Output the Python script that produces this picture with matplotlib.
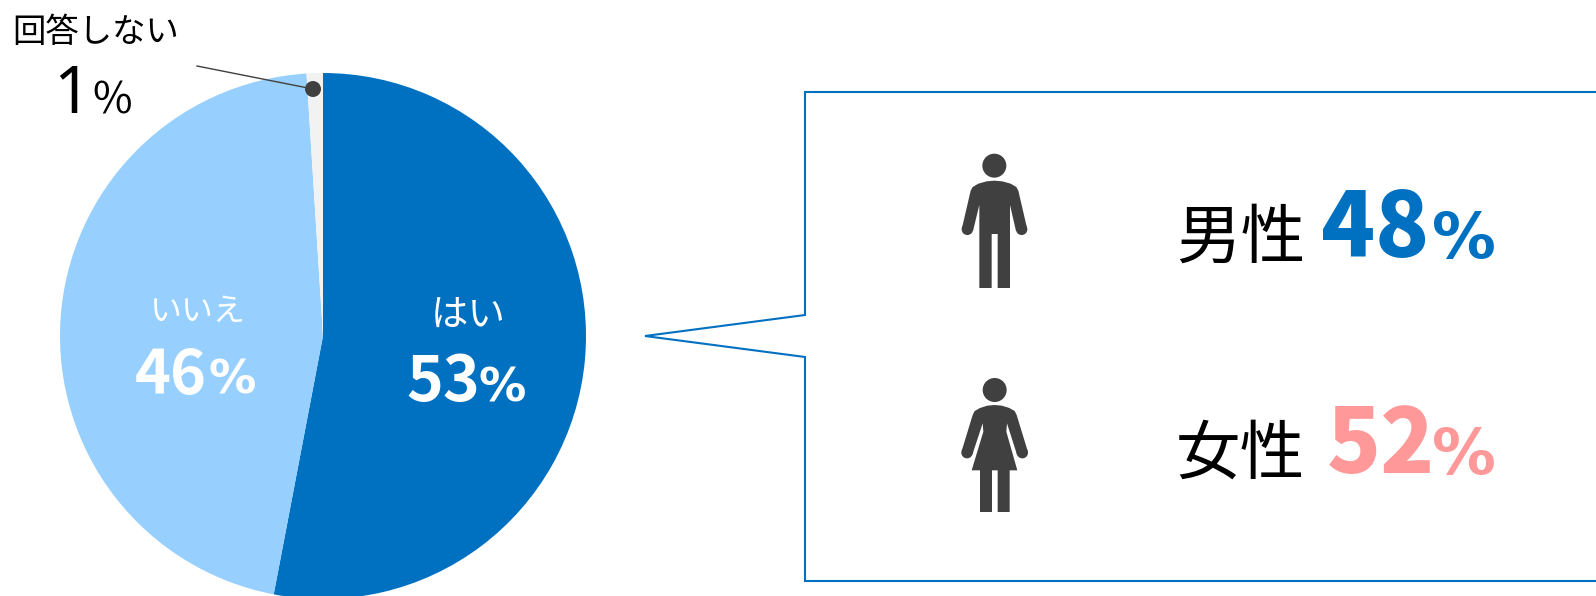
import matplotlib
matplotlib.use("Agg")
import matplotlib.pyplot as plt
from matplotlib.patches import Circle, Polygon, PathPatch
from matplotlib.path import Path

W, H = 1596, 596

answers = ["はい", "いいえ", "回答しない"]
shares = [53, 46, 1]
slice_colors = ["#0070C0", "#97D0FF", "#F2F2F2"]

genders = ["男性", "女性"]
gender_shares = [48, 52]
gender_colors = ["#0070C0", "#FF9999"]

JP = ["Noto Sans CJK JP", "DejaVu Sans"]
LATIN = "DejaVu Sans"
ICON = "#404040"

# outlines of the two pictograms, in thirds of a pixel
MAN_BODY = [
    (193, 152), (170, 154), (145, 161), (128, 171), (122, 182), (96, 294), (129, 303), (148, 225), (148, 474),
    (185, 474), (185, 312), (203, 312), (203, 474), (240, 474), (240, 225), (258, 303), (291, 294), (265, 182),
    (259, 171), (242, 161), (217, 154),
]
WOMAN_BODY = [
    (194, 825), (172, 827), (150, 834), (134, 843), (128, 855), (95, 963), (127, 974), (158, 880), (160, 905),
    (125, 1021), (150, 1021), (150, 1146), (186, 1146), (186, 1021), (203, 1021), (203, 1146), (239, 1146),
    (239, 1021), (262, 1021), (229, 905), (231, 880), (261, 974), (293, 963), (260, 855), (254, 843), (238, 834),
    (216, 827),
]


def Y(py):
    # layout below is worked out in pixels from the top-left corner
    return H - py


def put(x, y, s, size, color="black", family=JP, weight="normal"):
    ax.text(x, Y(y), s, fontsize=size, color=color, family=family, weight=weight,
            ha="left", va="baseline")


def dot(x, y, r, zorder=3):
    ax.add_patch(Circle((x, Y(y)), r, fc=ICON, ec="none", zorder=zorder))


def pictogram(outline, head, hands):
    # origin of the outline coordinates is (930, 130)
    to_px = lambda p: (930 + p[0] / 3, Y(130 + p[1] / 3))
    ax.add_patch(Polygon([to_px(p) for p in outline], closed=True, fc=ICON, ec="none"))
    dot(930 + head[0] / 3, 130 + head[1] / 3, 12)
    for hx, hy in hands:
        dot(930 + hx / 3, 130 + hy / 3, 5.7)


fig = plt.figure(figsize=(W / 100, H / 100), dpi=100, facecolor="white")
ax = fig.add_axes([0, 0, 1, 1])

ax.pie(shares, colors=slice_colors, startangle=90, counterclock=False,
       center=(323, Y(336)), radius=263, frame=True)
ax.set_xlim(0, W)
ax.set_ylim(0, H)
ax.set_aspect("equal")
ax.axis("off")

# leader line and dot for the smallest slice
ax.plot([197, 313], [Y(66), Y(89)], color="#404040", lw=1.0)
dot(313, 89, 8, zorder=4)

# slice labels
put(431, 326, answers[0], 27, "white")
put(150, 321, answers[1], 23, "white")
put(406, 401, str(shares[0]), 45, "white", weight="bold")
put(479, 401, "%", 34, "white", family=LATIN, weight="bold")
put(135, 394, str(shares[1]), 44, "white", weight="bold")
put(209, 394, "%", 34, "white", family=LATIN, weight="bold")
put(12, 42, answers[2], 24)
put(53, 113, str(shares[2]), 47, family="Noto Sans")
put(92, 113, "%", 31)

# callout box, open past the right edge
callout = Path(
    [(W + 5, Y(92)), (805, Y(92)), (805, Y(315)), (645, Y(336)), (805, Y(357)), (805, Y(581)), (W + 5, Y(581))],
    [Path.MOVETO] + [Path.LINETO] * 6,
)
ax.add_patch(PathPatch(callout, fc="none", ec="#0070C0", lw=1.5, joinstyle="miter"))

pictogram(MAN_BODY, (193, 107), [(112, 298), (275, 298)])
pictogram(WOMAN_BODY, (194, 780), [(111, 968), (277, 968)])

for i, baseline in enumerate([258, 474]):
    put(1176, baseline, genders[i], 46.5)
    put(1321 if i == 0 else 1327, baseline - 1, str(gender_shares[i]), 64, gender_colors[i], weight=900)
    put(1432, baseline, "%", 46, gender_colors[i], family=LATIN, weight="bold")

fig.savefig("out.png", dpi=100, facecolor="white")
plt.close(fig)
